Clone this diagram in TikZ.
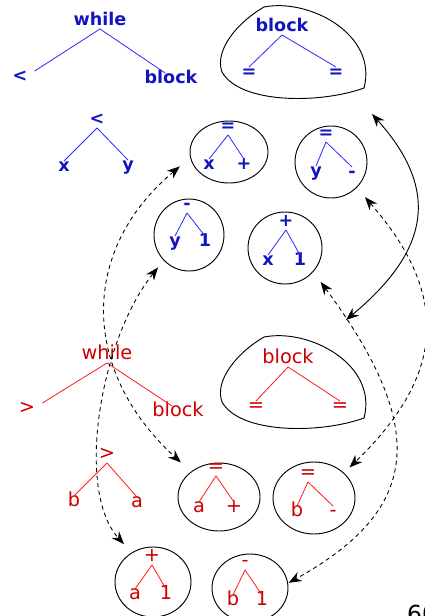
\documentclass[tikz,border=0pt]{standalone}
\usepackage{fontspec}
\setmainfont{DejaVu Sans}
\usetikzlibrary{shapes.geometric,arrows.meta}

\definecolor{bluetext}{RGB}{20,20,190}
\definecolor{blueline}{RGB}{45,45,255}
\definecolor{redtext}{RGB}{205,0,0}
\definecolor{redline}{RGB}{255,30,30}

\tikzset{
    bt/.style={text=bluetext, font=\fontsize{15}{18}\selectfont\bfseries, inner sep=1pt, text height=0.75em, text depth=0.2em},
    rt/.style={text=redtext, font=\fontsize{16.5}{19}\selectfont, inner sep=1pt, text height=0.75em, text depth=0.2em},
    bedge/.style={draw=blueline, line width=0.7pt},
    redge/.style={draw=redline, line width=0.7pt},
    ring/.style 2 args={draw, ellipse, line width=0.8pt, inner sep=0pt, outer sep=0pt,
        minimum width=#1*0.03cm, minimum height=#2*0.03cm},
    blob/.style={draw, line width=0.8pt},
    link/.style={line width=0.75pt, dash pattern=on 3.5pt off 3pt, {Stealth[length=11pt,width=8.5pt]}-{Stealth[length=11pt,width=8.5pt]}},
    bond/.style={line width=0.8pt, {Stealth[length=11pt,width=8.5pt]}-{Stealth[length=11pt,width=8.5pt]}}
}

\begin{document}
\begin{tikzpicture}[x=0.03cm, y=-0.03cm]
    \useasboundingbox (0,0) rectangle (425,616);

    % blue trees
    \node[bt] (bwhile) at (100,22) {while};
    \node[bt] (bless) at (20,78) {<};
    \node[bt] (bblock) at (171,80) {block};
    \draw[bedge] (bwhile.south) -- ([xshift=5pt]bless.north east);
    \draw[bedge] (bwhile.south) -- (bblock.130);

    \node[bt] (bless2) at (97,121) {<};
    \node[bt] (bx) at (64,168) {x};
    \node[bt] (by) at (128,167) {y};
    \draw[bedge] (bless2.south) -- (bx.north);
    \draw[bedge] (bless2.south) -- (by.north);

    \draw[blob] (264,7) .. controls (310,-2) and (378,35) .. (364,88)
        .. controls (320,104) and (240,104) .. (222,72)
        .. controls (214,50) and (238,22) .. (264,7) -- cycle;
    \node[bt] (bblk) at (282,28) {block};
    \node[bt] (beq1) at (249,74) {=};
    \node[bt] (beq2) at (336,74) {=};
    \draw[bedge] (bblk.south) -- (beq1.north);
    \draw[bedge] (bblk.south) -- (beq2.north);

    \node[ring={78}{62}] (cxplus) at (229,152) {};
    \node[bt] (cxplustop) at (228,128) {=};
    \node[bt] (cxplusl) at (209,166) {x};
    \node[bt] (cxplusr) at (244,166) {+};
    \draw[bedge] (cxplustop.south) -- (cxplusl.north);
    \draw[bedge] (cxplustop.south) -- (cxplusr.north);

    \node[ring={72}{72}] (cyminus) at (331,162) {};
    \node[bt] (cyminustop) at (326,135) {=};
    \node[bt] (cyminusl) at (316,173) {y};
    \node[bt] (cyminusr) at (352,174) {-};
    \draw[bedge] (cyminustop.south) -- (cyminusl.north);
    \draw[bedge] (cyminustop.south) -- (cyminusr.north);

    \node[ring={70}{72}] (cyone) at (189,235) {};
    \node[bt] (cyonetop) at (187,206) {-};
    \node[bt] (cyonel) at (175,243) {y};
    \node[bt] (cyoner) at (205,243) {1};
    \draw[bedge] (cyonetop.south) -- (cyonel.north);
    \draw[bedge] (cyonetop.south) -- (cyoner.north);

    \node[ring={74}{72}] (cxone) at (285,248) {};
    \node[bt] (cxonetop) at (286,223) {+};
    \node[bt] (cxonel) at (268,262) {x};
    \node[bt] (cxoner) at (300,262) {1};
    \draw[bedge] (cxonetop.south) -- (cxonel.north);
    \draw[bedge] (cxonetop.south) -- (cxoner.north);

    % red trees
    \node[rt] (rwhile) at (107,356) {while};
    \node[rt] (rgt) at (27,410) {>};
    \node[rt] (rblock) at (178,413) {block};
    \draw[redge] (rwhile.south) -- ([xshift=5pt]rgt.north east);
    \draw[redge] (rwhile.south) -- (rblock.130);

    \node[rt] (rgt2) at (107,456) {>};
    \node[rt] (rb) at (74,503) {b};
    \node[rt] (ra) at (137,504) {a};
    \draw[redge] (rgt2.south) -- (rb.north);
    \draw[redge] (rgt2.south) -- (ra.north);

    \draw[blob,shift={(0,330)}] (264,7) .. controls (310,-2) and (378,35) .. (364,88)
        .. controls (320,104) and (240,104) .. (222,72)
        .. controls (214,50) and (238,22) .. (264,7) -- cycle;
    \node[rt] (rblk) at (288,360) {block};
    \node[rt] (req1) at (256,408) {=};
    \node[rt] (req2) at (340,408) {=};
    \draw[redge] (rblk.south) -- (req1.north);
    \draw[redge] (rblk.south) -- (req2.north);

    \node[ring={82}{68}] (raplus) at (219,497) {};
    \node[rt] (raplustop) at (216,469) {=};
    \node[rt] (raplusl) at (199,509) {a};
    \node[rt] (raplusr) at (234,509) {+};
    \draw[redge] (raplustop.south) -- (raplusl.north);
    \draw[redge] (raplustop.south) -- (raplusr.north);

    \node[ring={82}{72}] (rbminus) at (314,498) {};
    \node[rt] (rbminustop) at (308,475) {=};
    \node[rt] (rbminusl) at (297,513) {b};
    \node[rt] (rbminusr) at (333,513) {-};
    \draw[redge] (rbminustop.south) -- (rbminusl.north);
    \draw[redge] (rbminustop.south) -- (rbminusr.north);

    \node[ring={76}{70}] (raone) at (153,582) {};
    \node[rt] (raonetop) at (152,558) {+};
    \node[rt] (raonel) at (135,596) {a};
    \node[rt] (raoner) at (166,596) {1};
    \draw[redge] (raonetop.south) -- (raonel.north);
    \draw[redge] (raonetop.south) -- (raoner.north);

    \node[ring={76}{68}] (rbone) at (250,588) {};
    \node[rt] (rbonetop) at (245,563) {-};
    \node[rt] (rbonel) at (233,602) {b};
    \node[rt] (rboner) at (262,602) {1};
    \draw[redge] (rbonetop.south) -- (rbonel.north);
    \draw[redge] (rbonetop.south) -- (rboner.north);

    % links
    \coordinate (blobtip) at (372,114);
    \coordinate (bondend) at (346,320);
    \draw[bond] (blobtip) .. controls (440,190) and (430,250) .. (bondend);

    \draw[link, shorten <=12pt, shorten >=12pt] (cxplus.188) .. controls (80,250) and (80,370) .. (raplus.138);
    \draw[link, shorten <=8pt, shorten >=10pt] (cyone.225) .. controls (100,340) and (75,490) .. (raone.126);
    \draw[link, shorten <=11pt, shorten >=1pt] (cxone.-40) .. controls (430,430) and (420,510) .. (rbone.7);
    \draw[link, shorten <=11pt, shorten >=7pt] (cyminus.-45) .. controls (455,300) and (440,380) .. (rbminus.40);

    \node[anchor=north west, font=\fontsize{20}{24}\selectfont, inner sep=0pt] (pagenum) at (407,605) {60};
\end{tikzpicture}
\end{document}
